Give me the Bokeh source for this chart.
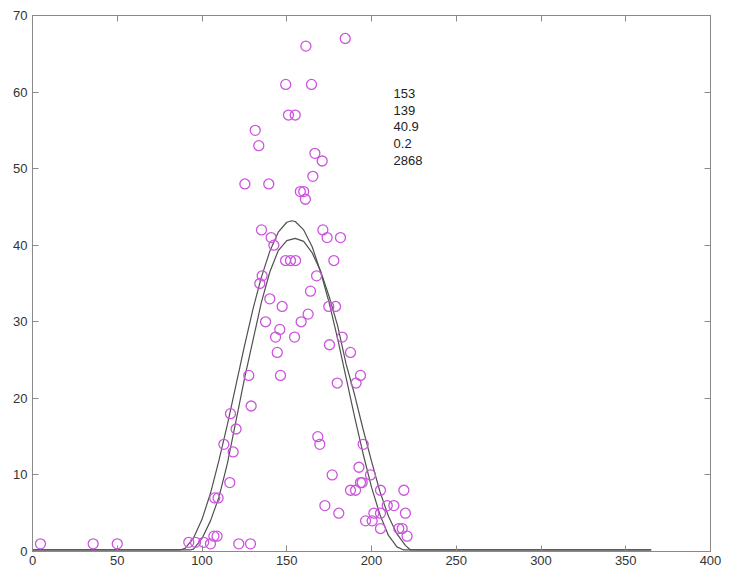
from bokeh.plotting import figure
from bokeh.models import Range1d, LinearAxis, FixedTicker
from bokeh.core.properties import value
from bokeh.embed import file_html
from bokeh.resources import INLINE

# observed points (x, count)
obs_x = [4.7, 35.8, 50, 92.2, 96.2, 101, 105, 107, 108.9, 107.5, 109.5, 116.4, 118.4, 112.9,
         120.1, 116.8, 129, 121.7, 128.6, 127.6, 146.3, 125.3, 139.4, 131.4, 133.5, 149.4,
         164.6, 161.3, 184.5, 151, 155, 166.6, 170.9, 165.4, 158, 160, 161, 135.1, 140.8,
         142.4, 171.3, 173.8, 181.7, 149.3, 152.2, 155.2, 177.8, 135.5, 134.1, 167.6, 164,
         140, 147.3, 174.8, 178.8, 162.6, 158.5, 137.5, 145.9, 143.4, 154.6, 182.7, 175.2,
         144.4, 187.6, 193.5, 179.8, 190.9, 168.3, 169.5, 195.1, 176.8, 192.6, 194.5, 187.6,
         190.6, 193.5, 199.4, 205.3, 219.1, 172.5, 180.7, 196.5, 200.4, 201.4, 205.3, 209.3,
         213.2, 205.3, 220, 216.1, 218.1, 221]
obs_y = [1, 1, 1, 1.2, 1.2, 1.2, 1, 2, 2, 7, 7, 9, 13, 14,
         16, 18, 19, 1, 1, 23, 23, 48, 48, 55, 53, 61,
         61, 66, 67, 57, 57, 52, 51, 49, 47, 47, 46, 42, 41,
         40, 42, 41, 41, 38, 38, 38, 38, 36, 35, 36, 34,
         33, 32, 32, 32, 31, 30, 30, 29, 28, 28, 28, 27,
         26, 26, 23, 22, 22, 15, 14, 14, 10, 11, 9, 8,
         8, 9, 10, 8, 8, 6, 5, 4, 4, 5, 5, 6,
         6, 3, 5, 3, 3, 2]

# fitted curve 1 (taller)
fit1_x = [0, 87, 90, 95, 100, 105, 110, 115, 120, 125, 130, 135, 140, 145, 150, 153, 155,
          160, 165, 170, 175, 180, 185, 190, 195, 200, 205, 210, 215, 219, 365]
fit1_y = [0.2, 0.2, 0.4, 1.75, 4.2, 7.6, 11.9, 16.6, 21.7, 26.8, 31.6, 35.8, 39.2, 41.7, 43.0,
          43.2, 43.1, 42.0, 39.8, 36.5, 32.5, 27.8, 22.7, 17.6, 12.8, 8.4, 4.8, 2.1, 0.6, 0.2, 0.2]

# fitted curve 2
fit2_x = [0, 93, 95, 100, 105, 110, 115, 120, 125, 130, 135, 140, 145, 150, 155, 160, 165,
          170, 175, 180, 185, 190, 195, 200, 205, 210, 215, 220, 223, 365]
fit2_y = [0.2, 0.2, 0.3, 1.7, 4.0, 7.1, 11.5, 17.0, 22.5, 27.5, 32.5, 36.5, 39.3, 40.6, 40.9,
          40.5, 39.0, 36.6, 33.3, 29.5, 24.5, 20.5, 16.0, 11.8, 7.8, 4.6, 2.3, 0.8, 0.2, 0.2]

params = ["153", "139", "40.9", "0.2", "2868"]
params_y = [59.8, 57.6, 55.5, 53.3, 51.1]
params_x = [213] * len(params)

x_ticks = [0, 50, 100, 150, 200, 250, 300, 350, 400]
y_ticks = [0, 10, 20, 30, 40, 50, 60, 70]

AX = "#8a8a8a"
LAB = "#333333"

p = figure(width=730, height=574, output_backend="svg", toolbar_location=None,
           x_range=Range1d(0, 400), y_range=Range1d(0, 70),
           min_border_left=32, min_border_right=20, min_border_top=15, min_border_bottom=23)
p.xgrid.visible = False
p.ygrid.visible = False
p.outline_line_color = AX
p.background_fill_color = "white"
p.border_fill_color = "white"

for ax, ticks in ((p.xaxis[0], x_ticks), (p.yaxis[0], y_ticks)):
    ax.ticker = FixedTicker(ticks=ticks)
    ax.minor_tick_line_color = None
    ax.major_tick_in = 6
    ax.major_tick_out = 0
    ax.axis_line_color = AX
    ax.major_tick_line_color = AX
    ax.major_label_text_font = "Liberation Sans"
    ax.major_label_text_font_size = "13px"
    ax.major_label_text_color = LAB
p.xaxis.major_label_standoff = 4
p.yaxis.major_label_standoff = 5

for loc, ticks in (("above", x_ticks), ("right", y_ticks)):
    a = LinearAxis(ticker=FixedTicker(ticks=ticks), major_label_text_font_size="1px",
                   major_label_text_color=None,
                   major_label_standoff=0, major_tick_in=6, major_tick_out=0,
                   minor_tick_line_color=None, axis_line_color=AX, major_tick_line_color=AX)
    p.add_layout(a, loc)

p.line(fit1_x, fit1_y, line_color="#505050", line_width=1.2)
p.line(fit2_x, fit2_y, line_color="#505050", line_width=1.2)

p.scatter(obs_x, obs_y, marker="circle", size=10, fill_color=None,
          line_color="#cc55dd", line_width=1.3)

p.text(params_x, params_y, text=params, text_font=value("Liberation Sans"),
       text_font_size="13px", text_color="#222222", text_baseline="middle", text_align="left")

open("out.html", "w").write(file_html(p, INLINE))
